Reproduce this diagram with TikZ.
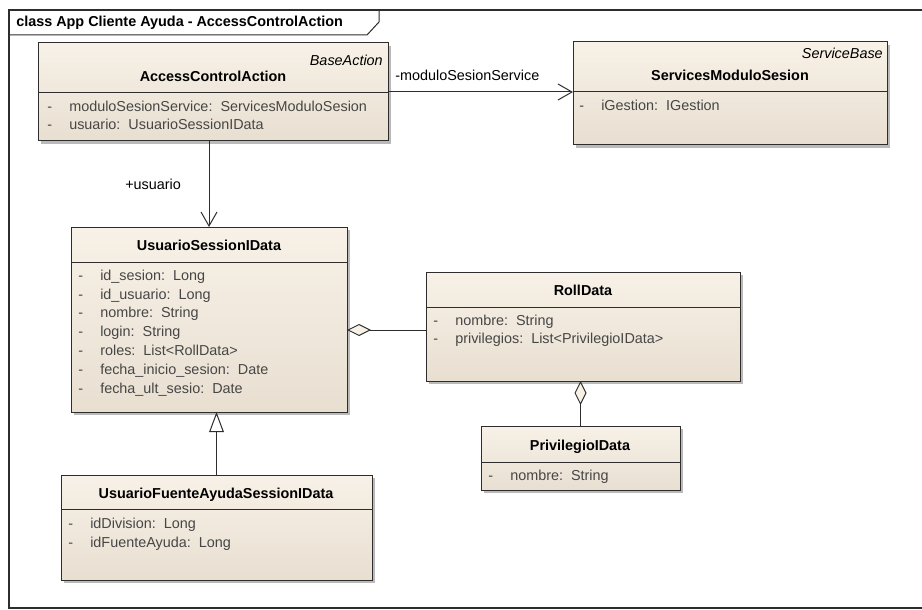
\documentclass[tikz,border=0pt]{standalone}
\usepackage{fontspec}
\setmainfont{Liberation Sans}
\usepackage{tikz}
\usetikzlibrary{arrows.meta}
\usetikzlibrary{shadows}

\definecolor{umlline}{RGB}{45,45,45}
\definecolor{clslight}{RGB}{248,241,231}
\definecolor{clsdark}{RGB}{232,223,209}
\definecolor{attrtext}{RGB}{70,70,70}
\newcommand\umlfont{\fontsize{10.8}{13}\selectfont}

\tikzset{
  umlclass/.style={draw=umlline, line width=0.75pt, inner sep=0pt, outer sep=0pt,
    anchor=north west, top color=clslight, bottom color=clsdark,
    drop shadow={shadow xshift=2.25pt, shadow yshift=-2.25pt, opacity=0.45, fill=black!60}},
  txt/.style={inner sep=0pt, text height=8pt, text depth=2.2pt, font=\umlfont},
  clsname/.style={txt, font=\umlfont\bfseries},
  stereo/.style={txt, font=\umlfont\itshape, anchor=east},
  attr/.style={txt, text=attrtext, anchor=west},
  rolename/.style={txt, anchor=west},
  assoc/.style={draw=umlline, line width=0.75pt, -{Straight Barb[length=10.5pt, width=12pt]}},
  aggr/.style={draw=umlline, line width=0.75pt, {Diamond[fill=clslight, length=18pt, width=9pt]}-},
  inherit/.style={draw=umlline, line width=0.75pt, -{Triangle[fill=white, length=15pt, width=11pt]}}
}
\newcommand\dash{\makebox[16.5pt][l]{-}}

\begin{document}
\begin{tikzpicture}[x=0.75pt,y=0.75pt,yscale=-1,xscale=1]
        \useasboundingbox (0,0) rectangle (922,610);

        %Frame and title tab
        \draw[umlline, line width=0.9pt] (922,10) -- (9,10) -- (9,608) -- (922,608) ;
        \draw[umlline, line width=0.75pt] (9,35) -- (367,35) -- (379,22) -- (379,10) ;
        \node[clsname, anchor=west] (title) at (16,23) {class App Cliente Ayuda - AccessControlAction};

        %Class: AccessControlAction
        \node[umlclass, minimum width=262.5pt, minimum height=73.5pt] (acc) at (38,43) {};
        \draw[umlline, line width=0.75pt] (acc.west |- 0,93) -- (acc.east |- 0,93) ;
        \node[stereo] (accstereo) at (383,62) {BaseAction};
        \node[clsname] (accname) at (213,78) {AccessControlAction};
        \node[attr] (acca1) at (47,108) {\dash moduloSesionService:\ \ ServicesModuloSesion};
        \node[attr] (acca2) at (47,126) {\dash usuario:\ \ UsuarioSessionIData};

        %Class: ServicesModuloSesion
        \node[umlclass, minimum width=235.5pt, minimum height=77.25pt] (svc) at (573,42) {};
        \draw[umlline, line width=0.75pt] (svc.west |- 0,92) -- (svc.east |- 0,92) ;
        \node[stereo] (svcstereo) at (883,55) {ServiceBase};
        \node[clsname] (svcname) at (730,77) {ServicesModuloSesion};
        \node[attr] (svca1) at (579,107) {\dash iGestion:\ \ IGestion};

        %Class: UsuarioSessionIData
        \node[umlclass, minimum width=207pt, minimum height=138.75pt] (usr) at (71,227) {};
        \draw[umlline, line width=0.75pt] (usr.west |- 0,262) -- (usr.east |- 0,262) ;
        \node[clsname] (usrname) at (209,247) {UsuarioSessionIData};
        \node[attr] (usra1) at (78,277) {\dash id\_sesion:\ \ Long};
        \node[attr] (usra2) at (78,296) {\dash id\_usuario:\ \ Long};
        \node[attr] (usra3) at (78,314) {\dash nombre:\ \ String};
        \node[attr] (usra4) at (78,333) {\dash login:\ \ String};
        \node[attr] (usra5) at (78,352) {\dash roles:\ \ List<RollData>};
        \node[attr] (usra6) at (78,371) {\dash fecha\_inicio\_sesion:\ \ Date};
        \node[attr] (usra7) at (78,390) {\dash fecha\_ult\_sesio:\ \ Date};

        %Class: RollData
        \node[umlclass, minimum width=235.5pt, minimum height=81.75pt] (roll) at (426,272) {};
        \draw[umlline, line width=0.75pt] (roll.west |- 0,307) -- (roll.east |- 0,307) ;
        \node[clsname] (rollname) at (583,292) {RollData};
        \node[attr] (rolla1) at (433,322) {\dash nombre:\ \ String};
        \node[attr] (rolla2) at (433,340) {\dash privilegios:\ \ List<PrivilegioIData>};

        %Class: PrivilegioIData
        \node[umlclass, minimum width=149.25pt, minimum height=48pt] (priv) at (481,426) {};
        \draw[umlline, line width=0.75pt] (priv.west |- 0,462) -- (priv.east |- 0,462) ;
        \node[clsname] (privname) at (580,447) {PrivilegioIData};
        \node[attr] (priva1) at (488,477) {\dash nombre:\ \ String};

        %Class: UsuarioFuenteAyudaSessionIData
        \node[umlclass, minimum width=233.25pt, minimum height=78.75pt] (fuente) at (61,475) {};
        \draw[umlline, line width=0.75pt] (fuente.west |- 0,509) -- (fuente.east |- 0,509) ;
        \node[clsname] (fuentename) at (216,495) {UsuarioFuenteAyudaSessionIData};
        \node[attr] (fuentea1) at (68,525) {\dash idDivision:\ \ Long};
        \node[attr] (fuentea2) at (68,544) {\dash idFuenteAyuda:\ \ Long};

        %Associations
        \draw[assoc] (acc.east) -- (svc.west |- acc.east) ;
        \node[rolename] (svcrole) at (395,77) {-moduloSesionService};
        \draw[assoc] (acc.south -| usr.north) -- (usr.north) ;
        \node[rolename] (usrrole) at (125,186) {+usuario};

        %Aggregations
        \coordinate (rollpin) at (426,330);
        \draw[aggr] (usr.east |- rollpin) -- (rollpin) ;
        \draw[aggr] (roll.south -| priv.north) -- (priv.north) ;

        %Generalization
        \draw[inherit] (fuente.north) -- (fuente.north |- usr.south) ;
\end{tikzpicture}
\end{document}
